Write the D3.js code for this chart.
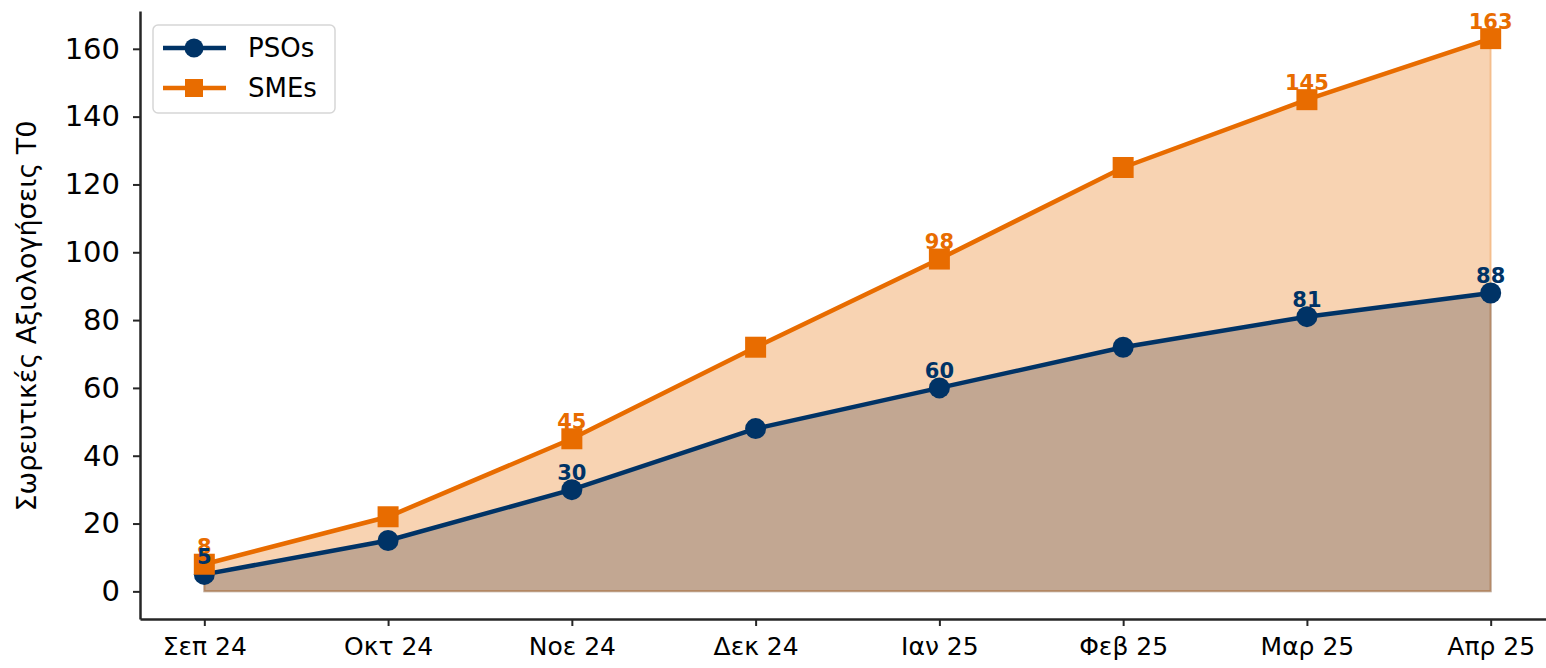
<!DOCTYPE html>
<html>
<meta charset="utf-8">
<style>
  body { margin: 0; background: #fff; }
  svg { display: block; font-family: "DejaVu Sans", sans-serif; }
  .axis path, .axis line { stroke: #262626; }
</style>
<body>
<svg width="1546" height="668"></svg>
<script src="https://cdn.jsdelivr.net/npm/d3@7"></script>
<script>
var months = ["Σεπ 24", "Οκτ 24", "Νοε 24", "Δεκ 24", "Ιαν 25", "Φεβ 25", "Μαρ 25", "Απρ 25"];
var psos = [5, 15, 30, 48, 60, 72, 81, 88];
var smes = [8, 22, 45, 72, 98, 125, 145, 163];
var labelIdx = [0, 2, 4, 6, 7];
var yTicks = [0, 20, 40, 60, 80, 100, 120, 140, 160];

var navy = "#003366", orange = "#e86c00";

var svg = d3.select("svg");

var x = d3.scaleLinear().domain([-0.35, 7.35]).range([140, 1555]);
var y = d3.scaleLinear().domain([-8.15, 171.15]).range([619, 11]);

function area(vals) {
  return d3.area()
    .x(function(d, i) { return x(i); })
    .y0(y(0))
    .y1(function(d) { return d; })
    (vals.map(function(v) { return y(v); }));
}
var line = d3.line()
  .x(function(d, i) { return x(i); })
  .y(function(d) { return y(d); });

// fills, navy first then orange on top
svg.append("path").attr("d", area(psos))
  .attr("fill", navy).attr("fill-opacity", 0.3)
  .attr("stroke", navy).attr("stroke-opacity", 0.3).attr("stroke-width", 2);
svg.append("path").attr("d", area(smes))
  .attr("fill", orange).attr("fill-opacity", 0.3)
  .attr("stroke", orange).attr("stroke-opacity", 0.3).attr("stroke-width", 2);

// lines + markers
svg.append("path").attr("d", line(psos))
  .attr("fill", "none").attr("stroke", navy).attr("stroke-width", 4.5);
svg.selectAll("circle.pso").data(psos).enter().append("circle")
  .attr("class", "pso")
  .attr("cx", function(d, i) { return x(i); })
  .attr("cy", function(d) { return y(d); })
  .attr("r", 10.5).attr("fill", navy);

svg.append("path").attr("d", line(smes))
  .attr("fill", "none").attr("stroke", orange).attr("stroke-width", 4.5);
svg.selectAll("rect.sme").data(smes).enter().append("rect")
  .attr("class", "sme")
  .attr("x", function(d, i) { return x(i) - 10.5; })
  .attr("y", function(d) { return y(d) - 10.5; })
  .attr("width", 21).attr("height", 21).attr("fill", orange);

// value labels
function labels(vals, col) {
  svg.selectAll(null).data(labelIdx).enter().append("text")
    .attr("x", function(i) { return x(i); })
    .attr("y", function(i) { return y(vals[i]) - 10; })
    .attr("text-anchor", "middle")
    .attr("font-size", 21).attr("font-weight", "bold")
    .attr("fill", col)
    .text(function(i) { return vals[i]; });
}
labels(smes, orange);
labels(psos, navy);

// axes
var yAxis = svg.append("g").attr("class", "axis")
  .attr("transform", "translate(140,0)")
  .call(d3.axisLeft(y).tickValues(yTicks).tickSize(7).tickPadding(13).tickSizeOuter(0));
yAxis.select(".domain").attr("stroke-width", 2.5);
yAxis.selectAll(".tick line").attr("stroke-width", 2);
yAxis.selectAll("text").attr("font-size", 29).attr("fill", "#000")
  .attr("font-family", "DejaVu Sans");

var xAxis = svg.append("g").attr("class", "axis")
  .attr("transform", "translate(0,619)")
  .call(d3.axisBottom(x).tickValues(d3.range(months.length))
    .tickFormat(function(i) { return months[i]; })
    .tickSize(7).tickPadding(11).tickSizeOuter(0));
xAxis.select(".domain").attr("stroke-width", 2.5);
xAxis.selectAll(".tick line").attr("stroke-width", 2);
xAxis.selectAll("text").attr("font-size", 25).attr("fill", "#000")
  .attr("font-family", "DejaVu Sans");

// y label
svg.append("text")
  .attr("transform", "translate(36,316) rotate(-90)")
  .attr("text-anchor", "middle")
  .attr("font-size", 27).attr("fill", "#000")
  .text("Σωρευτικές Αξιολογήσεις Τ0");

// legend
var lg = svg.append("g");
lg.append("rect").attr("x", 153).attr("y", 25).attr("width", 182).attr("height", 88)
  .attr("rx", 5).attr("fill", "#fff").attr("fill-opacity", 0.8)
  .attr("stroke", "#d6d6d6").attr("stroke-width", 1.5);
var series = [{name: "PSOs", col: navy, shape: "circle"}, {name: "SMEs", col: orange, shape: "square"}];
series.forEach(function(s, k) {
  var yy = 48 + k * 40;
  lg.append("line").attr("x1", 163).attr("x2", 226).attr("y1", yy).attr("y2", yy)
    .attr("stroke", s.col).attr("stroke-width", 4.5);
  if (s.shape == "circle") {
    lg.append("circle").attr("cx", 194).attr("cy", yy).attr("r", 9.5).attr("fill", s.col);
  } else {
    lg.append("rect").attr("x", 185).attr("y", yy - 9).attr("width", 18).attr("height", 18).attr("fill", s.col);
  }
  lg.append("text").attr("x", 248).attr("y", yy + 9)
    .attr("font-size", 26).attr("fill", "#000").text(s.name);
});
</script>
</body>
</html>
